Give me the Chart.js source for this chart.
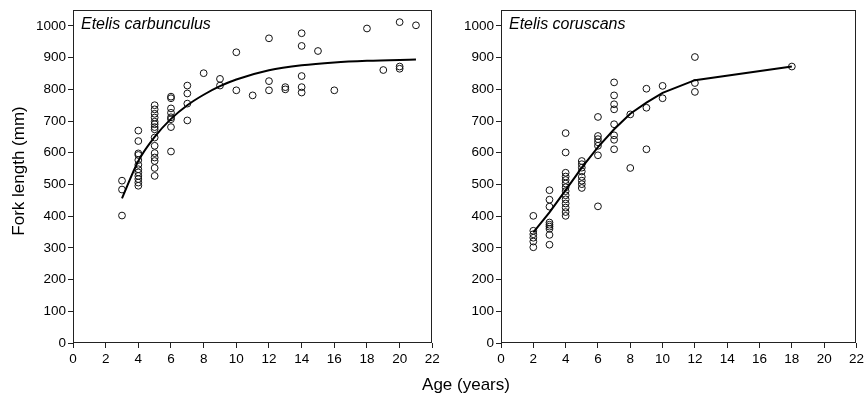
<!DOCTYPE html>
<html>
<head>
<meta charset="utf-8">
<script src="https://cdn.jsdelivr.net/npm/chart.js@4/dist/chart.umd.min.js"></script>
<style>
html,body{margin:0;padding:0;background:#fff;}
#wrap{position:relative;width:867px;height:399px;overflow:hidden;}
#c1{position:absolute;left:0;top:0;}
#c2{position:absolute;left:440px;top:0;}
</style>
</head>
<body>
<div id="wrap">
<canvas id="c1" width="867" height="399"></canvas>
<canvas id="c2" width="427" height="399"></canvas>
</div>
<script>
// ---------- data ----------
const yTicks = [0,100,200,300,400,500,600,700,800,900,1000];
const xTicks = [0,2,4,6,8,10,12,14,16,18,20,22];

// Etelis carbunculus: observed fork lengths (mm) grouped by age (years)
const carbAges = [3,4,5,6,7,8,9,10,11,12,13,14,15,16,18,19,20,21];
const carbLengths = [
  [512,484,402],
  [670,637,598,593,577,562,548,538,527,517,506,496],
  [750,737,723,711,698,690,681,674,648,622,599,585,574,552,527],
  [777,772,740,726,712,706,681,604],
  [812,787,755,702],
  [851],
  [833,812],
  [917,797],
  [781],
  [961,826,797],
  [807,800],
  [977,937,842,807,790],
  [921],
  [797],
  [992],
  [861],
  [1012,872,865],
  [1002]
];
const carbCurveAges = [3,4,5,6,7,8,9,10,12,14,16,18,21];
const carbCurveLengths = [456,574,650,707,750,783,810,831,860,876,885,890,894];

// Etelis coruscans
const coruAges = [2,3,4,5,6,7,8,9,10,12,18];
const coruLengths = [
  [401,354,343,332,320,302],
  [482,452,430,380,373,367,360,341,310],
  [662,601,537,525,514,503,491,479,466,453,440,427,413,401],
  [574,564,553,541,524,512,501,489],
  [713,653,643,633,622,592,431],
  [822,781,753,737,690,655,641,611],
  [721,552],
  [802,742,611],
  [811,772],
  [902,820,792],
  [872]
];
const coruCurveAges = [2,3,4,5,6,7,8,9,10,12,18];
const coruCurveLengths = [349,412,482,553,618,674,723,758,789,829,872];

const panelTitles = ['Etelis carbunculus','Etelis coruscans'];
const xTitle = 'Age (years)';
const yTitle = 'Fork length (mm)';

// ---------- helpers ----------
const FONT = "'Liberation Sans', Arial, sans-serif";
function toPoints(ages, groups){
  const pts = [];
  ages.forEach((a,i)=>groups[i].forEach(v=>pts.push({x:a,y:v})));
  return pts;
}
function toLine(ages, vals){ return ages.map((a,i)=>({x:a,y:vals[i]})); }

const framePlugin = {
  id:'frame',
  afterDraw(chart, args, opts){
    const {ctx, chartArea:{left,right,top,bottom}} = chart;
    ctx.save();
    ctx.strokeStyle = '#222';
    ctx.lineWidth = 1;
    const l = Math.round(left)+0.5, r = Math.round(right)-0.5, t = Math.round(top)+0.5, b = Math.round(bottom)-0.5;
    ctx.strokeRect(l, t, r-l, b-t);
    // panel title
    ctx.fillStyle = '#000';
    ctx.font = 'italic 16px ' + FONT;
    ctx.textAlign = 'left';
    ctx.textBaseline = 'alphabetic';
    ctx.fillText(opts.title, left + 8, 29);
    if (opts.outer) {
      ctx.font = '17px ' + FONT;
      ctx.textAlign = 'center';
      ctx.fillText(xTitle, 466, 390);
      ctx.translate(23.5, 171);
      ctx.rotate(-Math.PI/2);
      ctx.fillText(yTitle, 0, 0);
    }
    ctx.restore();
  }
};

function makeChart(id, title, ages, groups, cAges, cVals, yWidth, padRight, monotone, outer){
  return new Chart(document.getElementById(id), {
    type:'scatter',
    data:{datasets:[
      {
        type:'line',
        data: toLine(cAges, cVals),
        borderColor:'#000',
        borderWidth:2,
        pointRadius:0,
        fill:false,
        tension: 0,
        cubicInterpolationMode: monotone ? 'monotone' : 'default'
      },
      {
        data: toPoints(ages, groups),
        pointStyle:'circle',
        pointRadius:3.4,
        pointBorderWidth:1,
        borderColor:'#111',
        backgroundColor:'rgba(0,0,0,0)',
        showLine:false
      }
    ]},
    options:{
      responsive:false,
      animation:false,
      events:[],
      layout:{padding:{left:0,right:padRight,top:8,bottom:0}},
      plugins:{legend:{display:false},tooltip:{enabled:false},frame:{title:title, outer:outer}},
      scales:{
        x:{
          type:'linear', min:0, max:22,
          afterBuildTicks: s => { s.ticks = xTicks.map(v=>({value:v})); },
          afterFit: s => { s.height = 56; },
          ticks:{color:'#000', font:{family:FONT, size:13.5}, padding:3, maxRotation:0, autoSkip:false,
                 callback: v => String(v)},
          grid:{drawOnChartArea:false, drawTicks:true, tickLength:5, tickColor:'#222', color:'#222'},
          border:{display:false}
        },
        y:{
          type:'linear', min:0, max:1050,
          afterBuildTicks: s => { s.ticks = yTicks.map(v=>({value:v})); },
          afterFit: s => { s.width = yWidth; },
          ticks:{color:'#000', font:{family:FONT, size:13.5}, padding:2,
                 callback: v => String(v)},
          grid:{drawOnChartArea:false, drawTicks:true, tickLength:5, tickColor:'#222', color:'#222'},
          border:{display:false}
        }
      }
    },
    plugins:[framePlugin]
  });
}

makeChart('c1', panelTitles[0], carbAges, carbLengths, carbCurveAges, carbCurveLengths, 73, 867-432.3, true, true);
makeChart('c2', panelTitles[1], coruAges, coruLengths, coruCurveAges, coruCurveLengths, 61, 7, false, false);
</script>
</body>
</html>
